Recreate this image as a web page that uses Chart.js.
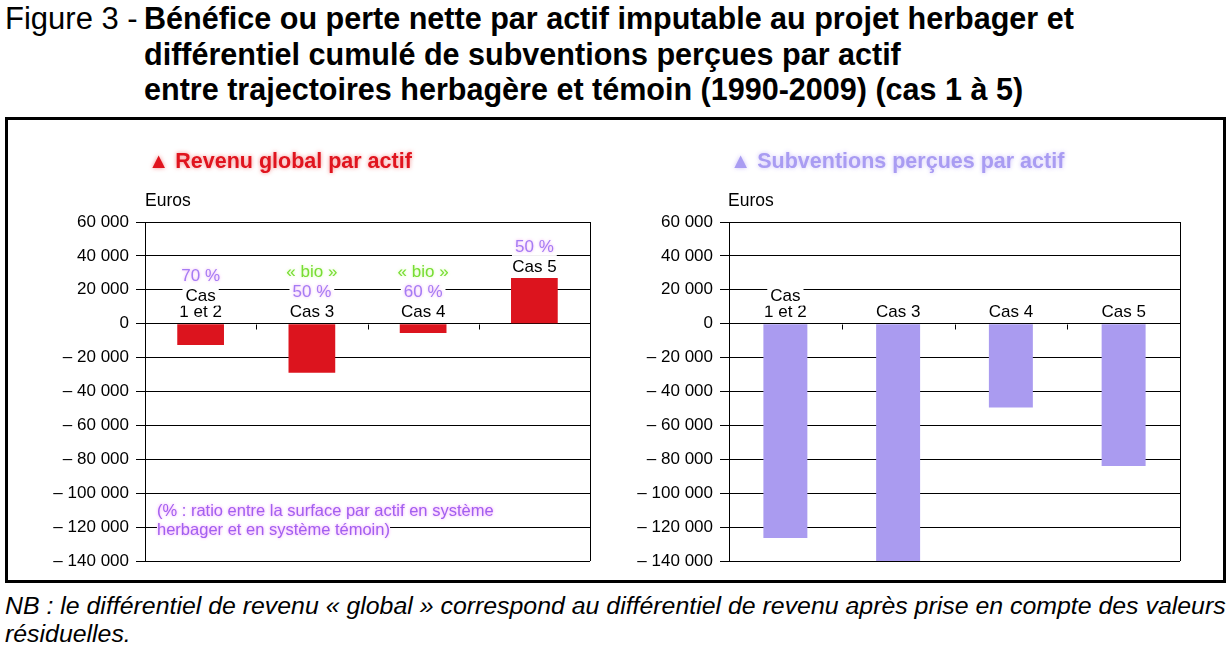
<!DOCTYPE html>
<html>
<head>
<meta charset="utf-8">
<script src="https://cdn.jsdelivr.net/npm/chart.js@4/dist/chart.umd.min.js"></script>
<style>
  body { margin: 0; width: 1232px; height: 651px; background: #fff; position: relative; overflow: hidden;
         font-family: "Liberation Sans", Arial, sans-serif; }
  .abs { position: absolute; white-space: nowrap; }
  #head { left: 5px; top: 1px; font-size: 31px; line-height: 35.5px; }
  #head .bold { font-weight: bold; display: inline-block; vertical-align: top; margin-left: -2px; transform: scaleX(0.985); transform-origin: left top; }
  #box { left: 5px; top: 117px; width: 1215px; height: 460px; border: 3px solid #000; }
  .ctitle { font-size: 21.5px; font-weight: bold; }
  #t1 { left: 148px; top: 149px; color: #e0141e; text-shadow: 0 0 4px rgba(240,110,110,0.8); }
  #t2 { left: 730px; top: 149px; color: #a99cf2; text-shadow: 0 0 4px rgba(200,185,250,0.9); }
  .euros { font-size: 17.5px; top: 190px; }
  #note { left: 157px; top: 501px; font-size: 16.5px; line-height: 19px; color: #a060f0; text-shadow: 0 0 3px rgba(250,110,250,0.7); }
  #note span { background: #fff; }
  #nb { left: 5px; top: 592px; font-size: 24.5px; line-height: 27.5px; font-style: italic; transform: scaleX(1.015); transform-origin: left top; }
  canvas { position: absolute; }
</style>
</head>
<body>
<div class="abs" id="head">Figure 3 - <span class="bold">Bénéfice ou perte nette par actif imputable au projet herbager et<br>différentiel cumulé de subventions perçues par actif<br>entre trajectoires herbagère et témoin (1990-2009) (cas 1 à 5)</span></div>
<div class="abs" id="box"></div>
<div style="position:absolute;left:0;top:120px;width:610px;height:460px"><canvas id="c1"></canvas></div>
<div style="position:absolute;left:610px;top:120px;width:610px;height:460px"><canvas id="c2"></canvas></div>
<div class="abs ctitle" id="t1">▲ Revenu global par actif</div>
<div class="abs ctitle" id="t2">▲ Subventions perçues par actif</div>
<div class="abs euros" style="left:145px">Euros</div>
<div class="abs euros" style="left:728px">Euros</div>
<div class="abs" id="note"><span>(% : ratio entre la surface par actif en système</span><br><span>herbager et en système témoin)</span></div>
<div class="abs" id="nb">NB : le différentiel de revenu « global » correspond au différentiel de revenu après prise en compte des valeurs<br>résiduelles.</div>
<script>
const categories = [["Cas", "1 et 2"], ["Cas 3"], ["Cas 4"], ["Cas 5"]];
const revenuGlobal = [-12500, -29000, -5500, 27000];
const subventions = [-126500, -140000, -49500, -84000];
const ratios = ["70 %", "50 %", "60 %", "50 %"];
const bioTags = ["", "« bio »", "« bio »", ""];
const yMin = -140000, yMax = 60000, yStep = 20000;

const fmt = v => {
  const s = Math.abs(v).toString().replace(/\B(?=(\d{3})+(?!\d))/g, " ");
  return v < 0 ? "– " + s : s;
};

// frame, small ticks at category boundaries and labels above the bars
const decor = {
  id: "decor",
  afterDatasetsDraw(chart, args, opts) {
    const { ctx, chartArea: a, scales: { x, y } } = chart;
    ctx.save();
    ctx.strokeStyle = "#000";
    ctx.lineWidth = 1;
    ctx.beginPath();
    ctx.moveTo(Math.round(a.right) + 0.5, a.top);
    ctx.lineTo(Math.round(a.right) + 0.5, a.bottom);
    const y0 = Math.round(y.getPixelForValue(0)) + 0.5;
    for (let i = 1; i < categories.length; i++) {
      const bx = Math.round((x.getPixelForValue(i - 1) + x.getPixelForValue(i)) / 2) + 0.5;
      ctx.moveTo(bx, y0);
      ctx.lineTo(bx, y0 + 5);
    }
    ctx.stroke();

    ctx.font = "17px 'Liberation Sans', Arial, sans-serif";
    ctx.textAlign = "center";
    ctx.textBaseline = "middle";
    const vals = chart.data.datasets[0].data;
    categories.forEach((cat, i) => {
      const lines = [];
      if (opts.extra) {
        if (bioTags[i]) lines.push({ t: bioTags[i], c: "#77dd33", g: "rgba(200,250,150,0.8)" });
        lines.push({ t: ratios[i], c: "#a47cf4", g: "rgba(240,150,240,0.8)" });
      }
      cat.forEach(t => lines.push({ t, c: "#000", cat: true }));
      const cx = x.getPixelForValue(i);
      let cy = y.getPixelForValue(Math.max(0, vals[i])) - 11;
      for (let k = lines.length - 1; k >= 0; k--) {
        const L = lines[k];
        const w = ctx.measureText(L.t).width + 6;
        ctx.fillStyle = "#fff";
        ctx.fillRect(cx - w / 2, cy - 9, w, 18);
        ctx.fillStyle = L.c;
        if (L.g) { ctx.shadowColor = L.g; ctx.shadowBlur = 3; }
        ctx.fillText(L.t, cx, cy);
        ctx.shadowBlur = 0;
        const next = lines[k - 1];
        cy -= (L.cat && next && next.cat) ? 16 : 20;
      }
    });
    ctx.restore();
  }
};

function makeChart(id, values, color, barPct, padRight, yWidth, extra) {
  return new Chart(document.getElementById(id), {
    type: "bar",
    data: {
      labels: categories,
      datasets: [{ data: values, backgroundColor: color, barPercentage: barPct, categoryPercentage: 1 }]
    },
    options: {
      responsive: true,
      maintainAspectRatio: false,
      animation: false,
      layout: { padding: { left: 0, right: padRight, top: 102, bottom: 19 } },
      plugins: { legend: { display: false }, tooltip: { enabled: false }, decor: { extra } },
      scales: {
        x: { display: false },
        y: {
          min: yMin, max: yMax,
          afterFit: s => { s.width = yWidth; },
          border: { color: "#000", width: 1 },
          grid: { color: "#000", lineWidth: 1, tickLength: 9, tickColor: "#000" },
          ticks: { stepSize: yStep, color: "#000", padding: 7, callback: fmt,
                   font: { family: "'Liberation Sans', Arial, sans-serif", size: 17 } }
        }
      }
    },
    plugins: [decor]
  });
}

makeChart("c1", revenuGlobal, "#dc141e", 0.42, 20, 145, true);
makeChart("c2", subventions, "#aa9bf0", 0.39, 40, 119, false);
</script>
</body>
</html>
